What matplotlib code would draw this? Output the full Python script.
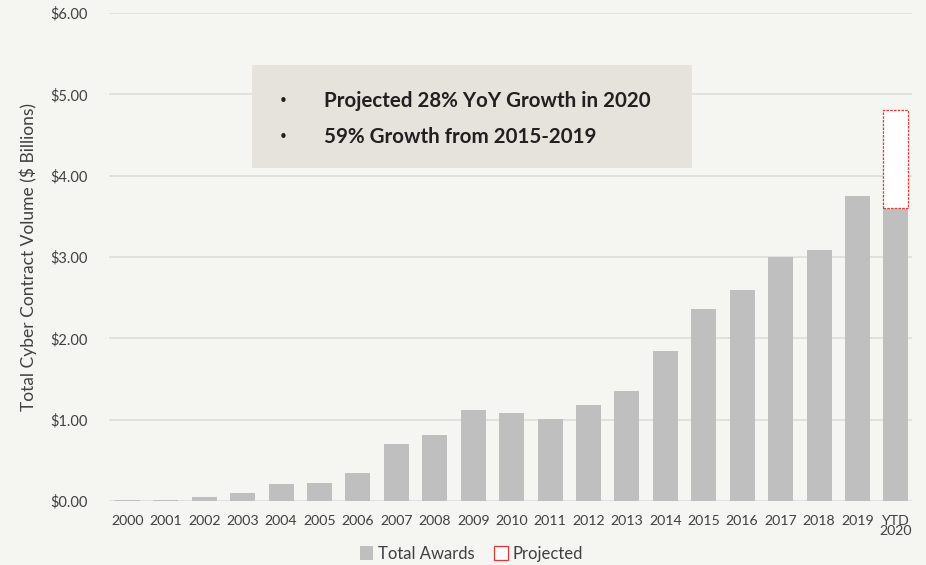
import matplotlib
matplotlib.use("Agg")
import matplotlib.pyplot as plt
from matplotlib.patches import Patch

categories = ["2000", "2001", "2002", "2003", "2004", "2005", "2006", "2007", "2008", "2009",
              "2010", "2011", "2012", "2013", "2014", "2015", "2016", "2017", "2018", "2019", "YTD\n2020"]
total_awards = [0.01, 0.01, 0.05, 0.10, 0.21, 0.22, 0.35, 0.70, 0.81, 1.12,
                1.08, 1.01, 1.18, 1.35, 1.84, 2.36, 2.60, 3.00, 3.08, 3.75, 3.60]
projected = [0, 0, 0, 0, 0, 0, 0, 0, 0, 0,
             0, 0, 0, 0, 0, 0, 0, 0, 0, 0, 1.21]
yticks = [0, 1, 2, 3, 4, 5, 6]
notes = ["Projected 28% YoY Growth in 2020", "59% Growth from 2015-2019"]

font = "Lato"
txt = "#404040"
bg = "#f5f5f1"
fig = plt.figure(figsize=(9.26, 5.65), dpi=100, facecolor=bg)
ax = fig.add_axes([0.1177, 0.1133, 0.8672, 0.8637], facecolor=bg)

x = list(range(len(categories)))
ax.bar(x, total_awards, width=0.65, color="#bfbfbf", zorder=2)
px = [xi for xi, p in zip(x, projected) if p > 0]
pv = [p for p in projected if p > 0]
pb = [b for b, p in zip(total_awards, projected) if p > 0]
ax.bar(px, pv, width=0.65, bottom=pb, color="white",
       edgecolor="#ee3333", linestyle=(0, (2, 1)), linewidth=0.9, zorder=2)

ax.set_xlim(-0.48, 20.42)
ax.set_ylim(0, 6)
ax.set_yticks(yticks)
ax.set_yticklabels([f"${v:.2f}" for v in yticks], fontfamily=font, fontsize=10.5, color=txt)
ax.set_xticks(x)
ax.set_xticklabels(categories, fontfamily=font, fontsize=10.2, color=txt, linespacing=0.8)
ax.tick_params(axis="x", length=0, pad=10)
ax.tick_params(axis="y", length=0, pad=15)
ax.grid(axis="y", color="#dcdcdc", linewidth=1.2, zorder=0)
for s in ax.spines.values():
    s.set_visible(False)
ax.set_ylabel("Total Cyber Contract Volume ($ Billions)", fontfamily=font, fontsize=12.5,
              color=txt, labelpad=10)

# note box
fig.patches.append(plt.Rectangle((252/926, 1-168/565), 440/926, 103/565,
                                 transform=fig.transFigure, facecolor="#e6e2dc",
                                 edgecolor="none", zorder=3))
for i, t in enumerate(notes):
    yy = 1 - (101 + 36*i)/565
    fig.text(283/926, yy, "\u2022", fontsize=11, color="#231f20", va="center", ha="center", zorder=4)
    fig.text(324/926, yy, t, fontsize=14.8, fontweight="bold", color="#231f20",
             va="center", ha="left", fontfamily=font, zorder=4)

handles = [Patch(facecolor="#bfbfbf", edgecolor="none", label="Total Awards"),
           Patch(facecolor="white", edgecolor="#ee3333", linewidth=0.9, label="Projected")]
fig.legend(handles=handles, loc="center", bbox_to_anchor=(0.509, 1-554/565), ncol=2, frameon=False,
           prop={"family": font, "size": 12}, handlelength=0.8, handleheight=0.9,
           handletextpad=0.3, columnspacing=1.2, labelcolor=txt)

fig.savefig("out.png", dpi=100, facecolor=bg)
